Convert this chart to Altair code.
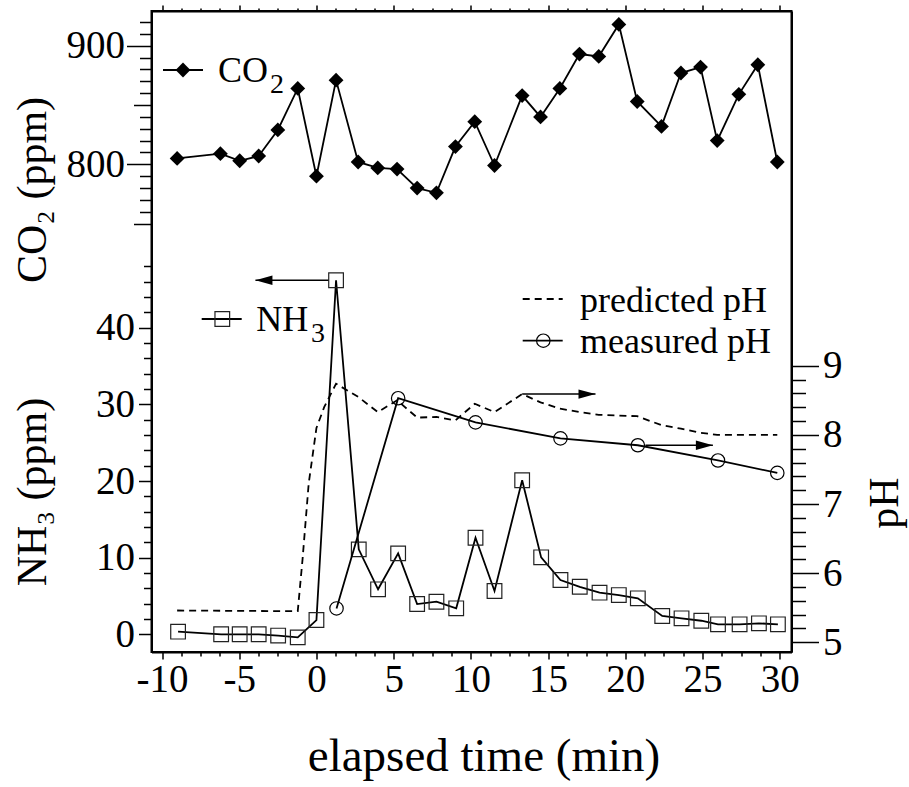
import altair as alt
import pandas as pd

FONT = "Liberation Serif"

# ---------------- data ----------------
t_co2 = [-9.02, -6.22, -4.97, -3.74, -2.50, -1.21, 0.00, 1.27, 2.70, 3.97,
         5.22, 6.52, 7.77, 9.00, 10.25, 11.53, 13.32, 14.51, 15.76, 17.03,
         18.28, 19.58, 20.77, 22.34, 23.60, 24.87, 25.95, 27.35, 28.58, 29.84]
co2 = [805, 809, 803, 807, 829, 864, 790, 871, 802, 797,
       796, 780, 776, 815, 836, 799, 858, 840, 864, 893,
       891, 918, 853, 832, 877, 882, 820, 859, 884, 802]

t_nh3 = [-8.96, -6.17, -4.97, -3.74, -2.48, -1.21, 0.00, 1.27, 2.74, 3.99,
         5.29, 6.52, 7.77, 9.05, 10.30, 11.53, 13.32, 14.55, 15.80, 17.05,
         18.33, 19.58, 20.81, 22.39, 23.64, 24.92, 26.00, 27.40, 28.65, 29.88]
nh3 = [0.34, 0.0, 0.0, 0.0, -0.17, -0.40, 1.86, 46.2, 11.08, 5.87,
       10.56, 3.95, 4.25, 3.39, 12.6, 5.65, 20.1, 10.04, 7.08, 6.20,
       5.43, 5.12, 4.69, 2.39, 2.08, 1.77, 1.30, 1.30, 1.43, 1.30]

t_meas = [1.30, 5.29, 10.30, 15.80, 20.81, 26.00, 29.84]
ph_meas = [5.49, 8.53, 8.18, 7.95, 7.85, 7.63, 7.45]

t_pred = [-9.02, -1.21, -0.90, -0.50, 0.00, 0.50, 1.27, 2.70, 3.97, 5.22,
          6.52, 7.77, 9.00, 10.25, 11.53, 13.32, 14.51, 15.76, 17.03, 18.28,
          19.58, 20.77, 22.34, 23.60, 24.87, 25.95, 27.35, 28.58, 29.84]
ph_pred = [5.46, 5.45, 6.20, 7.30, 8.10, 8.40, 8.74, 8.55, 8.33, 8.50,
           8.25, 8.26, 8.21, 8.45, 8.33, 8.59, 8.47, 8.38, 8.33, 8.29,
           8.28, 8.27, 8.14, 8.09, 8.03, 8.00, 8.00, 8.00, 8.00]

# arrows: (start time, tip time, level)
arrow_nh3 = [0.78, -3.95, 46.2]
arrow_ph = [[13.32, 18.07, 8.59], [21.30, 25.67, 7.85]]

# tick values
x_ticks = [-10 + 1.25 * i for i in range(33)]
co2_ticks = list(range(750, 921, 10))
nh3_ticks = list(range(0, 49, 2))
ph_ticks = [round(5 + 0.2 * i, 1) for i in range(21)]

# ---------------- layout constants ----------------
L, T = 151.5, 11.0
W, H = 640, 641
X_DOM = [-10.68, 30.76]
CO2_DOM = [388.8, 929.3]
NH3_DOM = [-2.31, 81.33]
PH_DOM = [4.86, 14.13]

df_co2 = pd.DataFrame({"t": t_co2, "v": co2})
df_nh3 = pd.DataFrame({"t": t_nh3, "v": nh3})
df_meas = pd.DataFrame({"t": t_meas, "v": ph_meas})
df_pred = pd.DataFrame({"t": t_pred, "v": ph_pred})
one = pd.DataFrame({"k": [0]})

xs = alt.Scale(domain=X_DOM, nice=False, zero=False)

lab = dict(labelFont=FONT, labelColor="black", tickColor="black",
           grid=False, title=None, tickWidth=1.5)
frame = dict(domain=True, domainColor="black", domainWidth=2)

x_bottom = alt.Axis(orient="bottom", values=x_ticks, labelFontSize=39,
                    labelExpr="datum.value % 5 === 0 ? '' + datum.value : ''",
                    tickSize={"condition": {"test": "datum.value % 5 === 0", "value": 7}, "value": 4},
                    labelPadding=1, **frame, **lab)
x_top = alt.Axis(orient="top", values=x_ticks, labels=False,
                 tickSize={"condition": {"test": "datum.value % 5 === 0", "value": 6}, "value": 3},
                 **frame, **lab)
co2_axis = alt.Axis(orient="left", values=co2_ticks, labelFontSize=39, domain=False,
                    labelExpr="datum.value % 100 === 0 ? '' + datum.value : ''",
                    tickSize={"condition": [{"test": "datum.value % 100 === 0", "value": 25},
                                            {"test": "datum.value % 50 === 0", "value": 18}],
                              "value": 12},
                    labelPadding=2, **lab)
nh3_axis = alt.Axis(orient="left", values=nh3_ticks, labelFontSize=39,
                    labelExpr="datum.value % 10 === 0 ? '' + datum.value : ''",
                    tickSize={"condition": {"test": "datum.value % 10 === 0", "value": 13}, "value": 8},
                    labelPadding=4, **frame, **lab)
ph_axis = alt.Axis(orient="right", values=ph_ticks, labelFontSize=39,
                   labelExpr="datum.value % 1 === 0 ? '' + datum.value : ''",
                   tickSize={"condition": {"test": "datum.value % 1 === 0", "value": 27}, "value": 14},
                   labelPadding=4, **frame, **lab)

# ---------------- CO2 ----------------
co2_y = alt.Scale(domain=CO2_DOM, nice=False, zero=False)
b_co2 = alt.Chart(df_co2).encode(
    x=alt.X("t:Q", scale=xs, axis=x_bottom),
    y=alt.Y("v:Q", scale=co2_y, axis=co2_axis),
)
co2_layer = alt.layer(
    b_co2.mark_line(color="black", strokeWidth=1.8),
    b_co2.mark_point(shape="diamond", filled=True, size=220, color="black", opacity=1),
)

# ---------------- NH3 ----------------
nh3_y = alt.Scale(domain=NH3_DOM, nice=False, zero=False)
b_nh3 = alt.Chart(df_nh3).encode(
    x=alt.X("t:Q", scale=xs, axis=x_top),
    y=alt.Y("v:Q", scale=nh3_y, axis=nh3_axis),
)
df_a1 = pd.DataFrame({"t": [arrow_nh3[0]], "t2": [arrow_nh3[1]], "v": [arrow_nh3[2]]})
a1_line = alt.Chart(df_a1).mark_rule(color="black", strokeWidth=1.5).encode(
    x=alt.X("t:Q", scale=xs, axis=x_top), x2="t2:Q",
    y=alt.Y("v:Q", scale=nh3_y, axis=nh3_axis))
a1_head = alt.Chart(df_a1).mark_point(shape="M 0 0 L 2 -0.55 L 2 0.55 Z", size=289, filled=True,
                                      color="black", opacity=1, strokeWidth=0).encode(
    x=alt.X("t2:Q", scale=xs, axis=x_top),
    y=alt.Y("v:Q", scale=nh3_y, axis=nh3_axis))
nh3_layer = alt.layer(
    b_nh3.mark_line(color="black", strokeWidth=1.8),
    b_nh3.mark_point(shape="square", filled=False, size=215, color="#222", strokeWidth=1.2, opacity=1),
    a1_line, a1_head,
)

# ---------------- pH ----------------
ph_y = alt.Scale(domain=PH_DOM, nice=False, zero=False)
pred = alt.Chart(df_pred).mark_line(color="black", strokeWidth=1.8, strokeDash=[7, 5]).encode(
    x=alt.X("t:Q", scale=xs, axis=None),
    y=alt.Y("v:Q", scale=ph_y, axis=ph_axis))
b_meas = alt.Chart(df_meas).encode(
    x=alt.X("t:Q", scale=xs, axis=None),
    y=alt.Y("v:Q", scale=ph_y, axis=ph_axis))
df_a2 = pd.DataFrame({"t": [a[0] for a in arrow_ph], "t2": [a[1] for a in arrow_ph],
                      "v": [a[2] for a in arrow_ph]})
a2_line = alt.Chart(df_a2).mark_rule(color="black", strokeWidth=1.5).encode(
    x=alt.X("t:Q", scale=xs, axis=None), x2="t2:Q",
    y=alt.Y("v:Q", scale=ph_y, axis=ph_axis))
a2_head = alt.Chart(df_a2).mark_point(shape="M 0 0 L -2 -0.55 L -2 0.55 Z", size=289, filled=True,
                                      color="black", opacity=1, strokeWidth=0).encode(
    x=alt.X("t2:Q", scale=xs, axis=None),
    y=alt.Y("v:Q", scale=ph_y, axis=ph_axis))
ph_layer = alt.layer(
    pred,
    b_meas.mark_line(color="black", strokeWidth=1.8),
    b_meas.mark_point(shape="circle", filled=False, size=180, color="black", strokeWidth=1.2, opacity=1),
    a2_line, a2_head,
)


# ---------------- annotations (legend, titles) ----------------
def txt(s, x, y, size, align="left", baseline="alphabetic", angle=0):
    return alt.Chart(one).mark_text(text=s, font=FONT, fontSize=size, align=align,
                                    baseline=baseline, angle=angle, color="black").encode(
        x=alt.value(x - L), y=alt.value(y - T))


def hline(x1, x2, y, dash=None):
    kw = dict(color="black", strokeWidth=1.8)
    if dash:
        kw["strokeDash"] = dash
    return alt.Chart(one).mark_rule(**kw).encode(
        x=alt.value(x1 - L), x2=alt.value(x2 - L), y=alt.value(y - T))


def sym(x, y, **kw):
    return alt.Chart(one).mark_point(opacity=1, **kw).encode(x=alt.value(x - L), y=alt.value(y - T))


annot = [
    hline(163, 203, 70),
    sym(183, 70, shape="diamond", filled=True, size=220, color="black"),
    txt("CO", 268, 82, 36, align="right"),
    txt("2", 270, 93, 28),
    hline(201.7, 241.7, 319),
    sym(222.3, 319, shape="square", filled=False, size=215, color="#222", strokeWidth=1.2),
    txt("NH", 308.3, 331, 36, align="right"),
    txt("3", 311, 341.7, 28),
    hline(522.7, 562.7, 299, dash=[7, 5]),
    txt("predicted pH", 580, 311.7, 36),
    hline(522.7, 562.7, 340.7),
    sym(543.3, 340.7, shape="circle", filled=False, size=180, color="black", strokeWidth=1.2),
    txt("measured pH", 580, 353.3, 36),
    txt("elapsed time (min)", 484, 757, 47, align="center", baseline="middle"),
    txt("CO₂ (ppm)", 33, 190, 42, align="center", baseline="middle", angle=270),
    txt("NH₃ (ppm)", 33, 492, 42, align="center", baseline="middle", angle=270),
    txt("pH", 885, 503, 42, align="center", baseline="middle", angle=270),
]

chart = alt.layer(co2_layer, nh3_layer, ph_layer, *annot).resolve_scale(
    y="independent"
).resolve_axis(x="independent", y="independent").properties(
    width=W, height=H,
    background="white",
    autosize=alt.AutoSizeParams(type="none"),
    padding={"left": L, "top": T, "right": 909 - L - W, "bottom": 787 - T - H},
).configure_view(stroke="black", strokeWidth=2)

chart.save("out.html", embed_options={"renderer": "svg", "actions": False})
